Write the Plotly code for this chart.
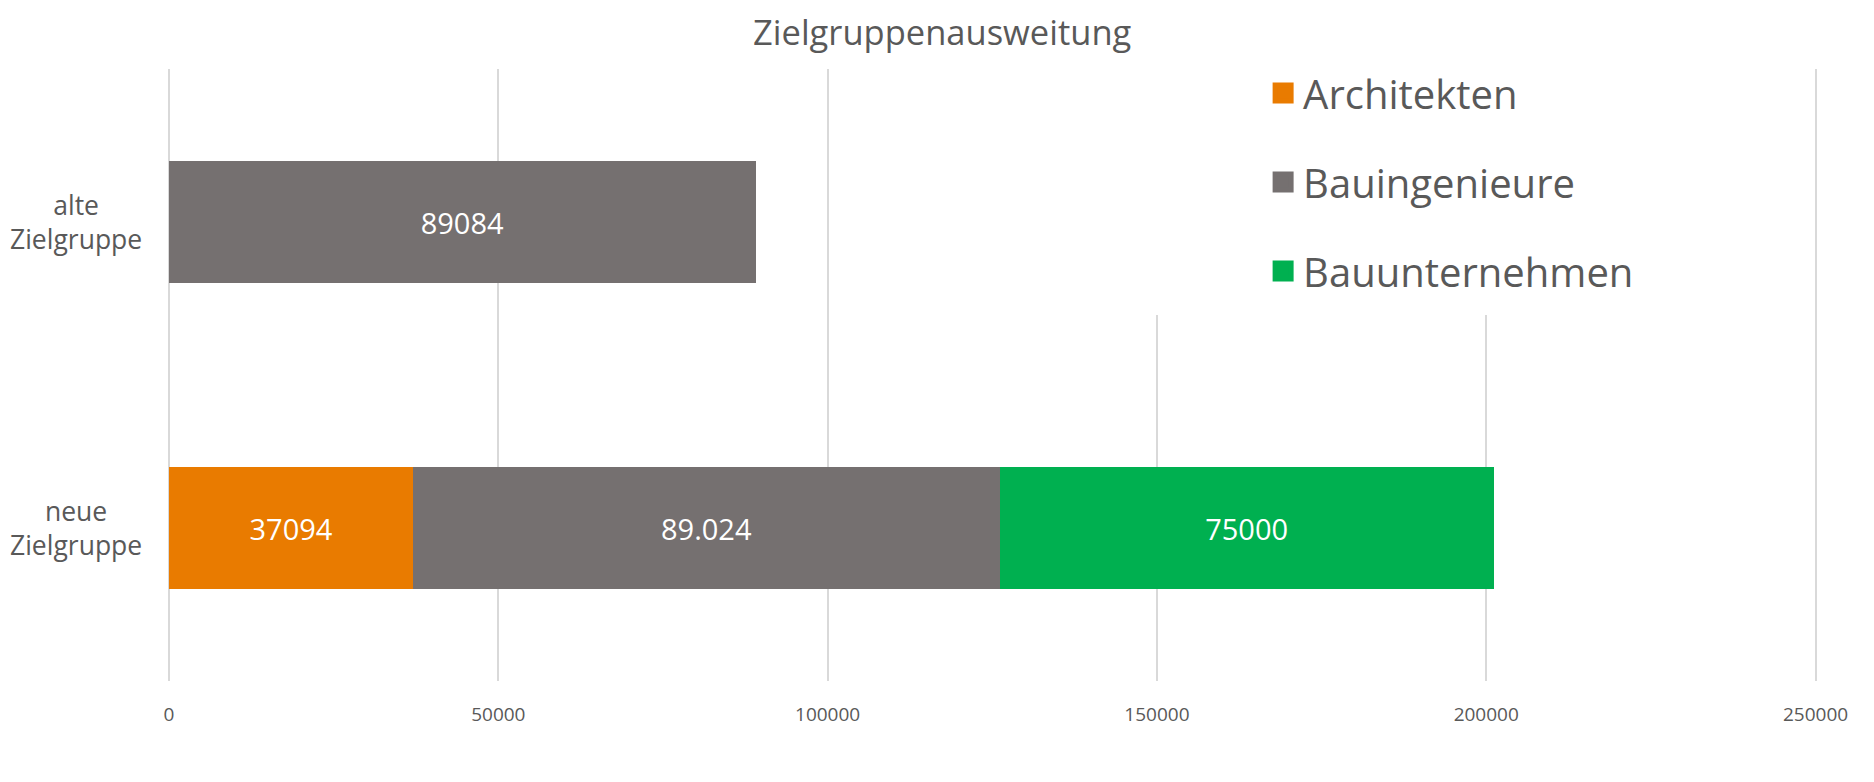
import plotly.graph_objects as go

# data
categories = ["neue Zielgruppe", "alte Zielgruppe"]
category_labels = ["neue<br>Zielgruppe", "alte<br>Zielgruppe"]
series_names = ["Architekten", "Bauingenieure", "Bauunternehmen"]
architekten = [37094, None]
bauingenieure = [89024, 89084]
bauunternehmen = [75000, None]
label_architekten = ["37094", ""]
label_bauingenieure = ["89.024", "89084"]
label_bauunternehmen = ["75000", ""]
colors = ["#E97B00", "#757070", "#00B050"]
x_ticks = [0, 50000, 100000, 150000, 200000, 250000]

FONT = "Open Sans"
GREY_TEXT = "#595959"

fig = go.Figure()

series_values = [architekten, bauingenieure, bauunternehmen]
series_labels = [label_architekten, label_bauingenieure, label_bauunternehmen]

for name, vals, labels, col in zip(series_names, series_values, series_labels, colors):
    fig.add_trace(go.Bar(
        y=categories, x=vals, name=name, orientation="h",
        marker=dict(color=col, line=dict(width=0)),
        text=labels, textposition="inside", insidetextanchor="middle",
        textfont=dict(family=FONT, size=29, color="white"),
        showlegend=False, hoverinfo="x+name",
    ))

# legend entries (bigger squares than the bar legend symbol)
for i, (name, col) in enumerate(zip(series_names, colors)):
    fig.add_trace(go.Scatter(
        x=[None], y=[None], mode="markers", name=name,
        marker=dict(symbol="square", size=16, color=col, line=dict(color=col, width=5)),
        legendgroup="g%d" % i, showlegend=True,
    ))

# category labels, centred like the original
for cat, lab in zip(categories, category_labels):
    fig.add_annotation(
        x=0, xref="paper", xanchor="right", xshift=-25,
        y=cat, yref="y", text=lab, showarrow=False, align="center",
        font=dict(family=FONT, size=26.5, color=GREY_TEXT),
    )

# white patch under the legend hiding the gridlines
fig.add_shape(type="rect", xref="paper", yref="paper", x0=0.55, x1=0.9, y0=0.598, y1=1.0,
              fillcolor="white", line=dict(width=0), layer="above")

fig.update_layout(
    width=1874, height=782,
    barmode="stack", bargap=0.6,
    paper_bgcolor="white", plot_bgcolor="white",
    margin=dict(l=161, r=64, t=61, b=109),
    title=dict(text="Zielgruppenausweitung", x=0.4985, xanchor="center",
               y=0.968, yanchor="middle",
               font=dict(family=FONT, size=34.5, color=GREY_TEXT)),
    legend=dict(x=0.6635, xanchor="left", y=1.014, yanchor="top",
                font=dict(family=FONT, size=40, color=GREY_TEXT),
                tracegroupgap=34, bgcolor="rgba(0,0,0,0)", itemclick=False),
    font=dict(family=FONT, color=GREY_TEXT),
)

fig.update_xaxes(
    range=[0, x_ticks[-1] * 1.0015], tickvals=x_ticks, ticktext=[str(v) for v in x_ticks],
    showgrid=True, gridcolor="#D9D9D9", gridwidth=2,
    zeroline=True, zerolinecolor="#D9D9D9", zerolinewidth=2,
    showline=False, ticks="", ticklabelstandoff=20,
    tickfont=dict(family=FONT, size=19, color=GREY_TEXT),
)
fig.update_yaxes(
    showticklabels=False, showgrid=False, zeroline=False, showline=False,
    range=[-0.5, 1.5],
)

fig.write_html("out.html")
